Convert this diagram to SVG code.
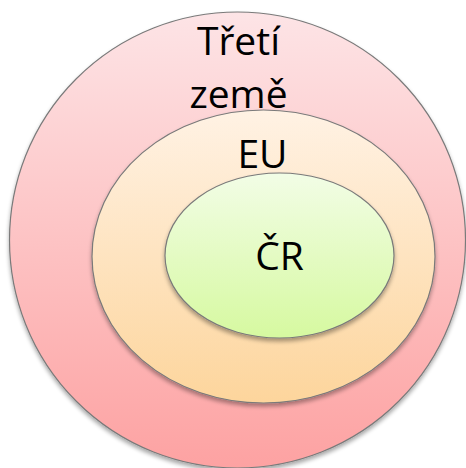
<svg xmlns="http://www.w3.org/2000/svg" width="466" height="468" viewBox="0 0 466 468">
<style>
.shape{stroke:#7a7a7a;stroke-width:1.2;filter:url(#sh)}
.lbl{font-family:"Open Sans","Noto Sans",sans-serif;font-size:39px;fill:#000}
</style>
<defs>
<linearGradient id="gOut" x1="0" y1="0" x2="0" y2="1">
<stop offset="0" stop-color="#fde4e6"/><stop offset="1" stop-color="#fda2a2"/>
</linearGradient>
<linearGradient id="gMid" x1="0" y1="0" x2="0" y2="1">
<stop offset="0" stop-color="#fff2e4"/><stop offset="1" stop-color="#fdd59c"/>
</linearGradient>
<linearGradient id="gIn" x1="0" y1="0" x2="0" y2="1">
<stop offset="0" stop-color="#f2fde6"/><stop offset="1" stop-color="#d6f9a0"/>
</linearGradient>
<filter id="sh" x="-10%" y="-10%" width="120%" height="125%">
<feGaussianBlur in="SourceAlpha" stdDeviation="2"/>
<feOffset dx="0" dy="3" result="b"/>
<feComponentTransfer><feFuncA type="linear" slope="0.35"/></feComponentTransfer>
<feMerge><feMergeNode/><feMergeNode in="SourceGraphic"/></feMerge>
</filter>
</defs>
<rect width="466" height="468" fill="#fff"/>
<g id="outer">
<ellipse class="shape" cx="237.5" cy="240" rx="228" ry="228" fill="url(#gOut)"/>
<text class="lbl" x="238.5" y="55" text-anchor="middle">Třetí</text>
<text class="lbl" x="238.5" y="108" text-anchor="middle">země</text>
</g>
<g id="middle">
<ellipse class="shape" cx="263.5" cy="256.5" rx="171.5" ry="146.5" fill="url(#gMid)"/>
<text class="lbl" x="262.5" y="168" text-anchor="middle">EU</text>
</g>
<g id="inner">
<ellipse class="shape" cx="279.5" cy="255.5" rx="114.5" ry="82.5" fill="url(#gIn)"/>
<text class="lbl" x="279.5" y="270" text-anchor="middle">ČR</text>
</g>
<g id="connectors"/>
</svg>
